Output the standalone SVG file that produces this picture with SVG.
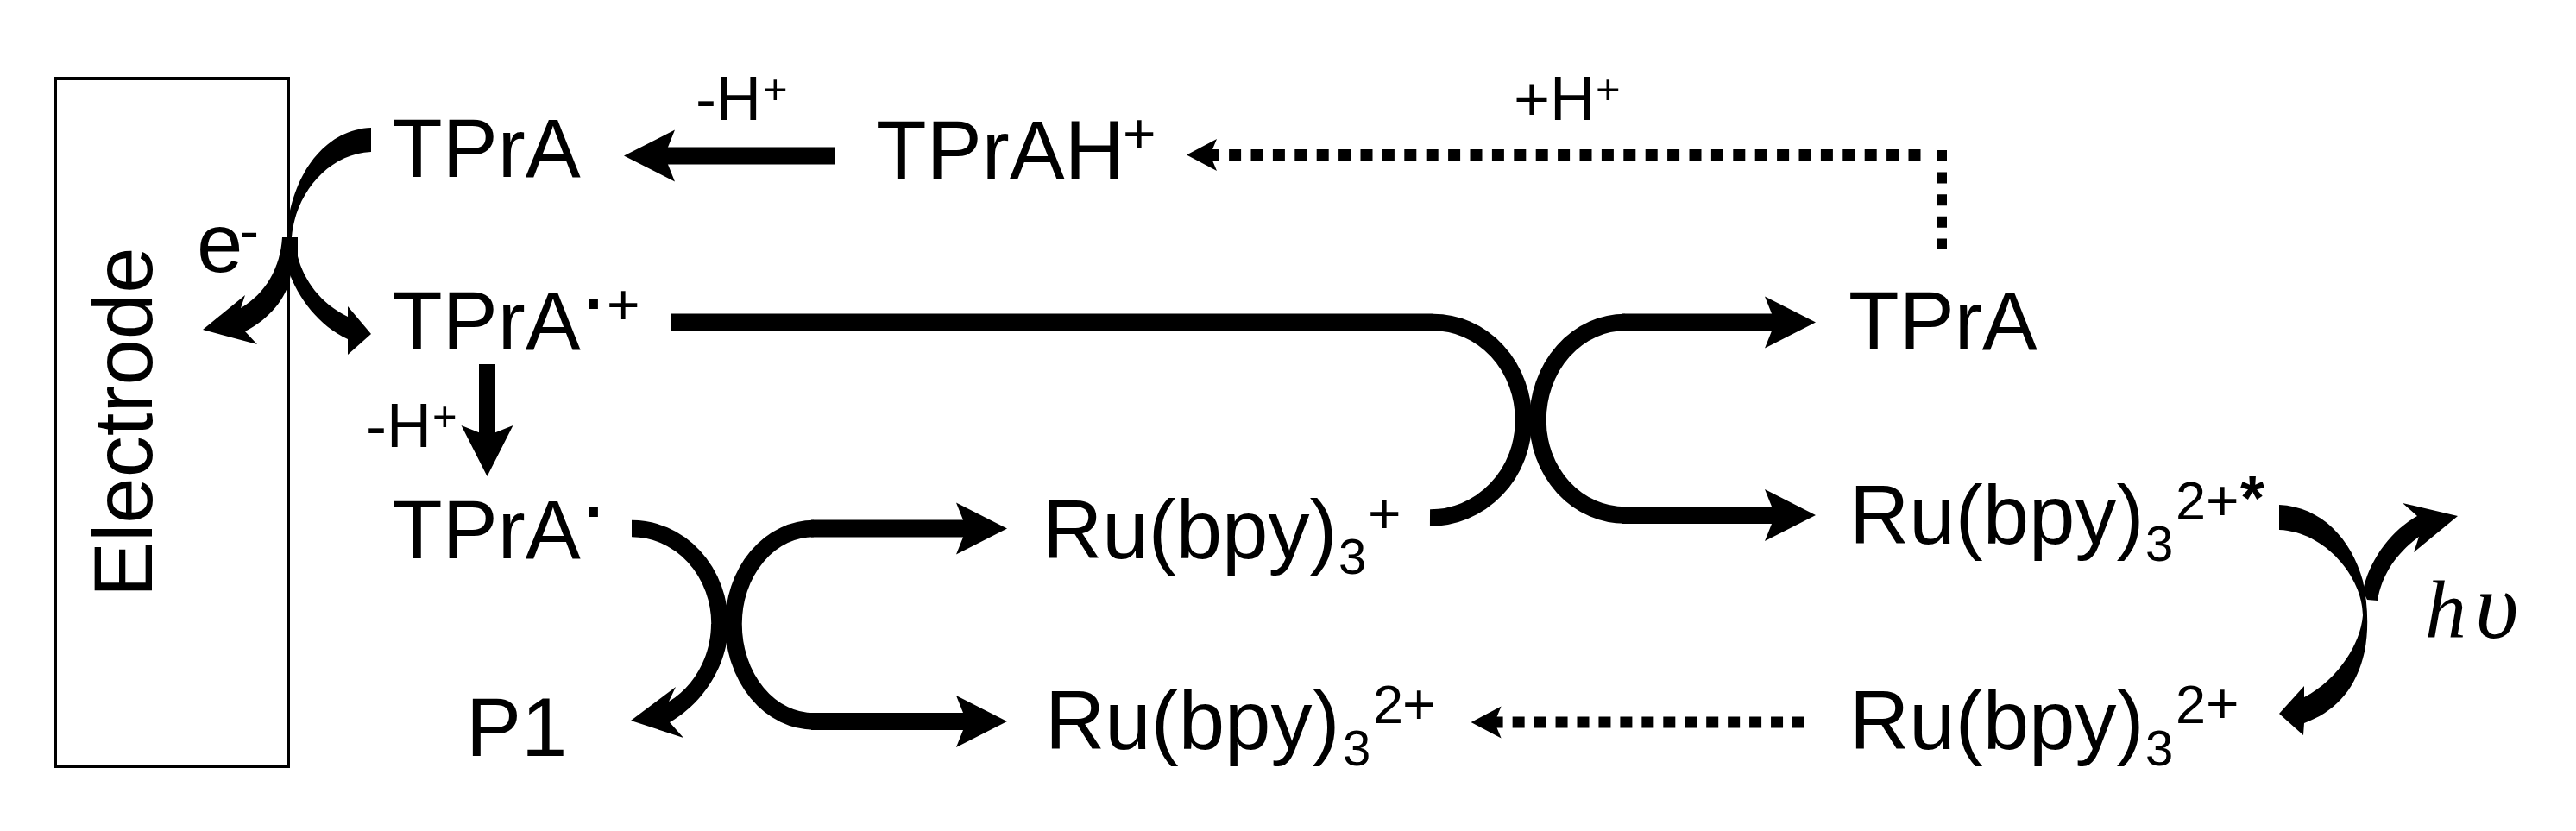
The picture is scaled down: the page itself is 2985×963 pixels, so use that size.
<svg xmlns="http://www.w3.org/2000/svg" width="2985" height="963" viewBox="0 0 2985 963">
<style>
text{font-family:"Liberation Sans",Arial,sans-serif;fill:#000}
.m{font-size:96px}
.l{font-size:72px}
.sub{font-size:58px}
.sup{font-size:63px}
.p{font-size:66px}
.ps{font-size:49px}
.dot{font-size:76px;font-weight:bold}
.star{font-size:72px;font-weight:bold}
.hv{font-family:"Liberation Serif","Times New Roman",serif;font-style:italic;font-size:96px}
.s{fill:none;stroke:#000;stroke-width:20}
.c{fill:none;stroke:#000;stroke-width:19.5}
.d{fill:none;stroke:#000;stroke-width:13}
.v{fill:none;stroke:#000;stroke-width:12}
.f{fill:#000;stroke:none}
</style>
<defs>
<marker id="big" markerUnits="userSpaceOnUse" orient="auto" overflow="visible" markerWidth="1" markerHeight="1" refX="0" refY="0"><path d="M47,0L-12,-30L0,0L-12,30Z"/></marker>
<marker id="small" markerUnits="userSpaceOnUse" orient="auto" overflow="visible" markerWidth="1" markerHeight="1" refX="0" refY="0"><path d="M48,0L13,-18.5L18,-6.5L11,-6.5L11,6.5L18,6.5L13,18.5Z"/></marker>
</defs>
<rect width="2985" height="963" fill="#fff"/>
<g id="electrode">
<rect x="64" y="91" width="270" height="797" fill="none" stroke="#000" stroke-width="4"/>
<text class="m" transform="translate(176,692) rotate(-90)">Electrode</text>
</g>
<g id="tpra-top"><text class="m" x="454" y="205">TPrA</text></g>
<g id="tpra-radical-cation"><text class="m" x="454" y="405">TPrA<tspan class="dot" x="677" y="378">·</tspan><tspan class="p" x="703" y="376">+</tspan></text></g>
<g id="tpra-radical"><text class="m" x="454" y="647">TPrA<tspan class="dot" x="677" y="619">·</tspan></text></g>
<g id="p1"><text class="m" x="540" y="876">P1</text></g>
<g id="tprah"><text class="m" x="1015" y="207">TPrAH<tspan class="p" x="1301" y="178">+</tspan></text></g>
<g id="tpra-right"><text class="m" x="2142" y="405">TPrA</text></g>
<g id="ru-plus"><text class="m" x="1208" y="647">Ru(bpy)<tspan class="sub" x="1551" y="665">3</tspan><tspan class="p" x="1585" y="618">+</tspan></text></g>
<g id="ru-2plus-left"><text class="m" x="1211" y="868">Ru(bpy)<tspan class="sub" x="1556" y="887">3</tspan><tspan class="sup" x="1591" y="838">2</tspan><tspan class="p" x="1625" y="839">+</tspan></text></g>
<g id="ru-2plus-star"><text class="m" x="2143" y="630">Ru(bpy)<tspan class="sub" x="2486" y="650">3</tspan><tspan class="sup" x="2521" y="602">2</tspan><tspan class="p" x="2556" y="603">+</tspan><tspan class="star" x="2596" y="602">*</tspan></text></g>
<g id="ru-2plus-right"><text class="m" x="2143" y="868">Ru(bpy)<tspan class="sub" x="2486" y="887">3</tspan><tspan class="sup" x="2521" y="838">2</tspan><tspan class="p" x="2556" y="838">+</tspan></text></g>
<g id="label-e"><text class="m" x="228" y="315">e<tspan class="p" x="278" y="290">-</tspan></text></g>
<g id="label-minus-h-left"><text class="l" x="424" y="518">-H<tspan class="ps" x="501" y="499">+</tspan></text></g>
<g id="label-minus-h-top"><text class="l" x="806" y="139">-H<tspan class="ps" x="884" y="120">+</tspan></text></g>
<g id="label-plus-h"><text class="l" x="1754" y="139">+H<tspan class="ps" x="1849" y="120">+</tspan></text></g>
<g id="label-hv"><text class="hv" x="2810" y="739">h<tspan x="2868" font-size="110">υ</tspan></text></g>
<g id="connectors">
<path class="s" marker-end="url(#big)" d="M968,180.5H770"/>
<path class="d" stroke-dasharray="14 11.4" marker-end="url(#small)" d="M2225.5,179.5H1423"/>
<path class="v" stroke-dasharray="13 12.6" d="M2250,174V289"/>
<path class="s" d="M777,373.5H1661"/>
<path class="c" d="M1661,373.5A104.5,113.5 0 0 1 1765.5,487A108,113 0 0 1 1657,600"/>
<path class="c" d="M1883,373.5A101,113.5 0 0 0 1782,487A101,110 0 0 0 1883,597"/>
<path class="s" marker-end="url(#big)" d="M1880,373.5H2057"/>
<path class="s" marker-end="url(#big)" d="M1880,597H2057"/>
<path class="s" style="stroke-width:19" marker-end="url(#big)" d="M564.5,422V505"/>
<path class="c" d="M732,612.5A102,110.5 0 0 1 834,723"/>
<path class="f" d="M824,723C824,760 805,795 775,813L783,796L731,835L792,855L776,837C815,815 844,770 844,723Z"/>
<path class="c" d="M943,612.5A93,110.5 0 0 0 850,723A93,113 0 0 0 943,836"/>
<path class="s" marker-end="url(#big)" d="M940,612.5H1120"/>
<path class="s" marker-end="url(#big)" d="M940,836H1120"/>
<path class="d" stroke-dasharray="14 10.95" marker-end="url(#small)" d="M2091,837H1752.6"/>
<path class="f" d="M430,148C375,150 336,205 332,275L338,275C342,225 380,178 430,176Z"/>
<path class="f" d="M327,275C325,310 308,340 279,357L284,342L235,382L298,399L284,384C312,370 332,345 336,323L345,275Z"/>
<path class="f" d="M345,275V297C352,325 372,352 403,367V355L430,387L403,411V393C370,378 345,345 334,313L327,275Z"/>
<path class="f" d="M2641,585C2690,587 2725,625 2738,673C2744,700 2745,730 2740,755C2730,800 2705,825 2670,838L2669,852L2641,827L2670,795V808C2705,790 2735,750 2738,713C2738,670 2695,616 2641,614Z"/>
<path class="f" d="M2743,695L2755,696C2760,665 2778,640 2803,622L2797,640L2848,598L2784,583L2801,598C2770,615 2745,650 2738,685Z"/>
</g>
</svg>
